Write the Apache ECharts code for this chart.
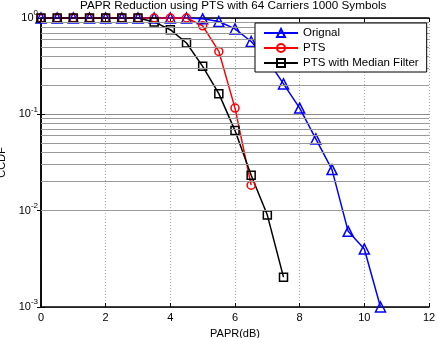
<!DOCTYPE html>
<html>
<head>
<meta charset="utf-8">
<script src="https://cdn.jsdelivr.net/npm/echarts@6/dist/echarts.min.js"></script>
<style>
  html, body { margin: 0; padding: 0; background: #fff; }
  #main { width: 438px; height: 338px; }
</style>
</head>
<body>
<div id="main"></div>
<script>
// PAPR (dB) sample points
var papr = [0, 0.5, 1, 1.5, 2, 2.5, 3, 3.5, 4, 4.5, 5, 5.5, 6, 6.5, 7, 7.5, 8, 8.5, 9, 9.5, 10, 10.5]
// CCDF values
var original = [1, 1, 1, 1, 1, 1, 1, 1, 1, 1, 0.98, 0.92, 0.77, 0.57, 0.37, 0.207, 0.116, 0.0556, 0.0267, 0.0061, 0.004, 0.001]
var pts = [1, 1, 1, 1, 1, 1, 1, 1, 1, 1, 0.83, 0.45, 0.116, 0.0184]
var ptsMedian = [1, 1, 1, 1, 1, 1, 1, 0.91, 0.756, 0.55, 0.315, 0.164, 0.0678, 0.0233, 0.009, 0.00204]
var minorY = [0.002, 0.003, 0.004, 0.005, 0.006, 0.007, 0.008, 0.009,
  0.02, 0.03, 0.04, 0.05, 0.06, 0.07, 0.08, 0.09,
  0.2, 0.3, 0.4, 0.5, 0.6, 0.7, 0.8, 0.9]

function pairs(ys) {
  return ys.map(function (y, i) { return [papr[i], y] })
}

var font = 'Arial, "Liberation Sans", sans-serif'

function mkSeries(name, ys, color, symbol, size) {
  return {
    name: name,
    type: 'line',
    data: pairs(ys),
    symbol: symbol,
    symbolSize: size,
    showAllSymbol: true,
    lineStyle: { color: color, width: 1.5 },
    itemStyle: { color: 'rgba(255,255,255,0)', borderColor: color, borderWidth: 1.5 },
    emphasis: { disabled: true },
    z: 2,
  }
}

var series = []
// minor log grid lines (kept as first series, legend icons behave better this way)
series.push({
  name: 'minor',
  type: 'line',
  data: [],
  silent: true,
  markLine: {
    silent: true,
    symbol: 'none',
    label: { show: false },
    lineStyle: { color: '#9a9a9a', type: 'solid', width: 1 },
    data: minorY.map(function (v) { return { yAxis: v } }),
  },
  z: 1,
})
series.push(mkSeries('Orignal', original, '#0000ff', 'triangle', 10))
series.push(mkSeries('PTS', pts, '#ff0000', 'circle', 8))
series.push(mkSeries('PTS with Median Filter', ptsMedian, '#000000', 'rect', 8))

var chart = echarts.init(document.getElementById('main'))
chart.setOption({
  animation: false,
  backgroundColor: '#fff',
  title: {
    text: 'PAPR Reduction using PTS with 64 Carriers 1000 Symbols',
    left: 80,
    top: 0,
    padding: 0,
    textStyle: { fontSize: 11.7, fontWeight: 'normal', color: '#000', fontFamily: font },
  },
  legend: {
    orient: 'vertical',
    left: 255,
    top: 23,
    z: 10,
    padding: [4, 8, 3, 8],
    itemWidth: 34,
    itemHeight: 10,
    itemGap: 3,
    backgroundColor: '#fff',
    borderColor: '#000',
    borderWidth: 1,
    textStyle: { fontSize: 11.5, color: '#000', fontFamily: font },
    data: ['Orignal', 'PTS', 'PTS with Median Filter'],
  },
  grid: { left: 41, right: 9, top: 18, bottom: 31, containLabel: false, outerBoundsMode: 'none' },
  xAxis: [
    {
      type: 'value',
      min: 0,
      max: 12,
      interval: 2,
      name: 'PAPR(dB)',
      nameLocation: 'middle',
      nameGap: 21,
      nameTextStyle: { fontSize: 11, color: '#000', fontFamily: font },
      axisLine: { lineStyle: { color: '#000', width: 1.5 } },
      axisTick: { inside: true, length: 4, lineStyle: { color: '#000' } },
      axisLabel: { margin: 5, fontSize: 11, color: '#000', fontFamily: font },
      splitLine: { show: true, lineStyle: { color: '#aaa', type: [1, 2], width: 1 } },
    },
    {
      type: 'value',
      position: 'top',
      min: 0,
      max: 12,
      interval: 2,
      axisLine: { onZero: false, lineStyle: { color: '#000', width: 1.5 } },
      axisTick: { inside: true, length: 4, lineStyle: { color: '#000' } },
      axisLabel: { show: false },
      splitLine: { show: false },
    },
  ],
  yAxis: [
    {
      type: 'log',
      logBase: 10,
      min: 0.001,
      max: 1,
      name: 'CCDF',
      nameLocation: 'middle',
      nameGap: 26,
      nameTextStyle: { fontSize: 11, color: '#000', fontFamily: font },
      axisLine: { lineStyle: { color: '#000', width: 1.5 } },
      axisTick: { inside: true, length: 4, lineStyle: { color: '#000' } },
      axisLabel: {
        margin: 3,
        color: '#000',
        fontFamily: font,
        formatter: function (v) {
          var e = Math.round(Math.log10(v))
          return '{b|10}{s|' + e + '}'
        },
        rich: {
          b: { fontSize: 11, fontFamily: font, color: '#000', lineHeight: 12, verticalAlign: 'middle' },
          s: { fontSize: 8, fontFamily: font, color: '#000', lineHeight: 18, verticalAlign: 'top' },
        },
      },
      splitLine: { show: true, lineStyle: { color: '#8a8a8a', width: 1 } },
    },
    {
      type: 'log',
      logBase: 10,
      min: 0.001,
      max: 1,
      position: 'right',
      axisLine: { show: true, lineStyle: { color: '#000', width: 1.5 } },
      axisTick: { inside: true, length: 4, lineStyle: { color: '#000' } },
      axisLabel: { show: false },
      splitLine: { show: false },
    },
  ],
  series: series,
})
</script>
</body>
</html>
